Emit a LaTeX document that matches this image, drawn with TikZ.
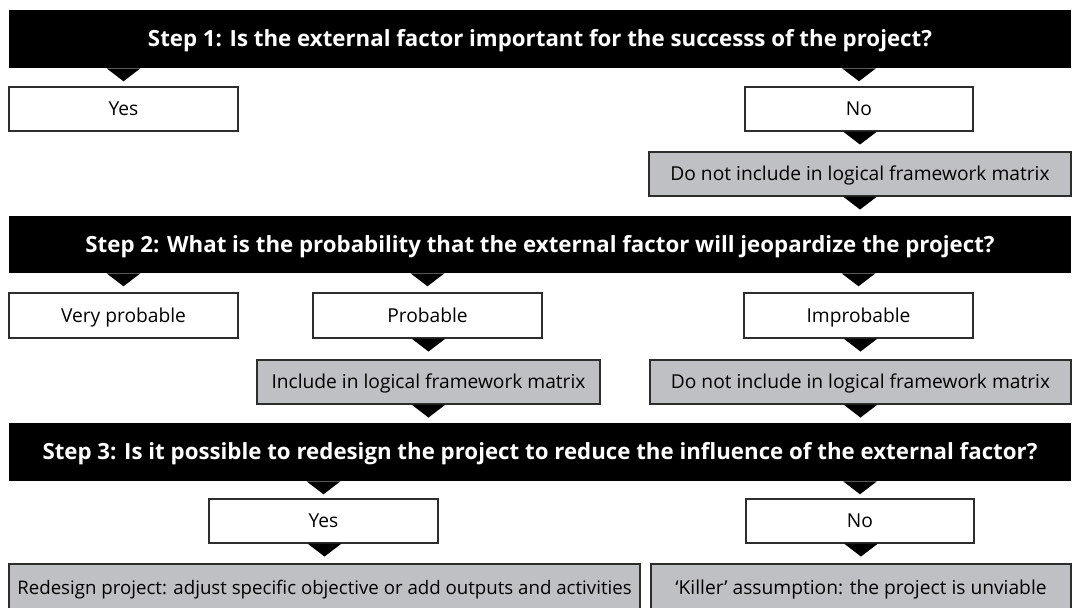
\documentclass[tikz,border=0pt]{standalone}
\usepackage{fontspec}
\setmainfont{Open Sans}
\usetikzlibrary{calc}
\definecolor{boxgray}{RGB}{191,192,196}
\definecolor{edgegray}{RGB}{45,45,45}
\newcommand\downtri[2]{\fill[black] ($(#1.south -| #2.north)+(-17,0)$) -- ++(34,0) -- ++(-17,13) -- cycle;}
\begin{document}
\begin{tikzpicture}[x=0.75pt,y=-0.75pt,
  stepbar/.style={fill=black, text=white, inner sep=0pt, minimum width=796.5pt, minimum height=43.5pt,
    text height=11.9pt, text depth=0pt,
    font=\bfseries\fontsize{16.7}{20}\selectfont},
  wbox/.style={draw=edgegray, line width=0.8pt, fill=white, inner sep=0pt, minimum height=33pt,
    text height=10.3pt, text depth=0pt,
    font=\fontsize{14.4}{17}\selectfont},
  gbox/.style={wbox, fill=boxgray}]
\useasboundingbox (0,0) rectangle (1073,607);
% Step 1
\node[stepbar] (s1) at (540,39) {Step 1: Is the external factor important for the successs of the project?};
\node[wbox, minimum width=171.75pt] (yes1) at (123.5,109) {Yes};
\node[wbox, minimum width=171pt] (no1) at (859,109) {No};
\node[gbox, minimum width=316.5pt] (ex1) at (860,174) {Do not include in logical framework matrix};
% Step 2
\node[stepbar, minimum height=42.75pt] (s2) at (540,244.5) {Step 2: What is the probability that the external factor will jeopardize the project?};
\node[wbox, minimum width=171.75pt, minimum height=33.75pt] (vp) at (123.5,315.5) {Very probable};
\node[wbox, minimum width=171.75pt, minimum height=33.75pt] (pr) at (427.5,315.5) {Probable};
\node[wbox, minimum width=171.75pt, minimum height=33.75pt] (im) at (858.5,315.5) {Improbable};
\node[gbox, minimum width=257.25pt] (inc) at (428.5,382) {Include in logical framework matrix};
\node[gbox, minimum width=315.75pt] (ex2) at (860.5,382) {Do not include in logical framework matrix};
% Step 3
\node[stepbar] (s3) at (540,452) {Step 3: Is it possible to redesign the project to reduce the influence of the external factor?};
\node[wbox, minimum width=171.75pt] (yes3) at (323.5,521) {Yes};
\node[wbox, minimum width=171pt] (no3) at (860,521) {No};
\node[gbox, minimum width=473.25pt, minimum height=36pt, font=\fontsize{14}{17}\selectfont] (red) at (324.5,588) {Redesign project: adjust specific objective or add outputs and activities};
\node[gbox, minimum width=315pt, minimum height=36pt] (kil) at (861,588) {‘Killer’ assumption: the project is unviable};
% connectors (triangles)
\downtri{s1}{yes1}
\downtri{s1}{no1}
\downtri{no1}{ex1}
\downtri{ex1}{ex1}
\downtri{s2}{vp}
\downtri{s2}{pr}
\downtri{s2}{im}
\downtri{pr}{inc}
\downtri{im}{ex2}
\downtri{inc}{inc}
\downtri{ex2}{ex2}
\downtri{s3}{yes3}
\downtri{s3}{no3}
\downtri{yes3}{red}
\downtri{no3}{kil}
\end{tikzpicture}
\end{document}
